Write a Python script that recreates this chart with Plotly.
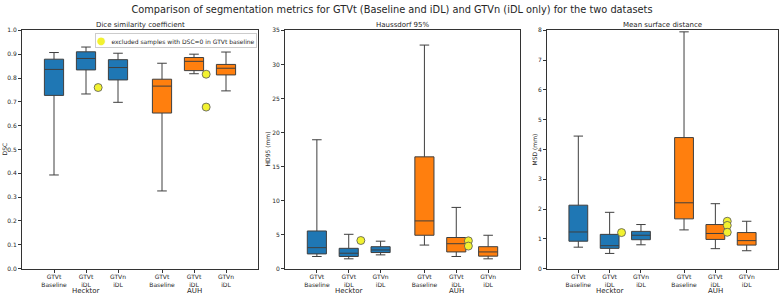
import plotly.graph_objects as go

W, H = 784, 297

groups = ["Hecktor", "AUH"]
methods = ["GTVt<br>Baseline", "GTVt<br>iDL", "GTVn<br>iDL"]
group_colors = ["#1f77b4", "#ff7f0e"]

metric_titles = ["Dice similarity coefficient", "Haussdorf 95%", "Mean surface distance"]
metric_ylabels = ["DSC", "HD95 (mm)", "MSD (mm)"]
metric_ranges = [[0, 1.0], [0, 35], [0, 8]]
metric_dticks = [0.1, 5, 1]
metric_tickfmt = [".1f", "d", "d"]

# box order: Hecktor (Baseline, iDL, GTVn iDL), AUH (Baseline, iDL, GTVn iDL)
dsc_lower = [0.393, 0.733, 0.698, 0.326, 0.818, 0.746]
dsc_q1 = [0.727, 0.834, 0.792, 0.653, 0.831, 0.813]
dsc_median = [0.836, 0.882, 0.844, 0.766, 0.870, 0.841]
dsc_q3 = [0.879, 0.910, 0.877, 0.795, 0.886, 0.857]
dsc_upper = [0.907, 0.930, 0.904, 0.862, 0.900, 0.909]
dsc_excluded_hecktor = [0.760]
dsc_excluded_auh = [0.816, 0.678]

hd95_lower = [1.78, 1.44, 2.02, 3.46, 1.78, 1.44]
hd95_q1 = [2.16, 1.78, 2.36, 4.90, 2.45, 1.83]
hd95_median = [3.08, 2.26, 2.74, 7.01, 3.66, 2.45]
hd95_q3 = [5.53, 2.98, 3.22, 16.42, 4.57, 3.22]
hd95_upper = [18.93, 5.04, 4.03, 32.84, 8.99, 4.90]
hd95_excluded_hecktor = [4.13]
hd95_excluded_auh = [4.08, 3.31]

msd_lower = [0.72, 0.51, 0.80, 1.30, 0.67, 0.60]
msd_q1 = [0.92, 0.68, 0.97, 1.67, 0.98, 0.79]
msd_median = [1.23, 0.77, 1.12, 2.21, 1.18, 0.94]
msd_q3 = [2.13, 1.15, 1.25, 4.40, 1.48, 1.21]
msd_upper = [4.45, 1.89, 1.48, 7.95, 2.18, 1.59]
msd_excluded_hecktor = [1.21]
msd_excluded_auh = [1.59, 1.45, 1.22]

metrics = [
    (dsc_lower, dsc_q1, dsc_median, dsc_q3, dsc_upper, dsc_excluded_hecktor, dsc_excluded_auh),
    (hd95_lower, hd95_q1, hd95_median, hd95_q3, hd95_upper, hd95_excluded_hecktor, hd95_excluded_auh),
    (msd_lower, msd_q1, msd_median, msd_q3, msd_upper, msd_excluded_hecktor, msd_excluded_auh),
]

legend_label = "excluded samples with DSC=0 in GTVt baseline"

# layout geometry
GROUP_GAP = 0.375
BOX_W = 0.6
OUT_OFF = 0.38
panel_px = [(22, 258), (285, 520), (547, 778)]
top_px, bot_px = 27, 271

def pos(g, m):
    return 1 + m + g * (len(methods) + GROUP_GAP)

positions = [pos(g, m) for g in range(len(groups)) for m in range(len(methods))]
tick_text = [m for g in groups for m in methods]
x_range = [0, positions[-1] + 1]

FONT = "DejaVu Sans"
LINE = "#3f3f3f"
TXT = "#262626"
YELLOW = "#f2f230"
fig = go.Figure()
annotations = []
axes = {}

for k, (lo, q1, med, q3, up, exc_h, exc_a) in enumerate(metrics):
    xa = "x" if k == 0 else f"x{k+1}"
    ya = "y" if k == 0 else f"y{k+1}"
    for g in range(len(groups)):
        idx = [g * len(methods) + m for m in range(len(methods))]
        fig.add_trace(go.Box(
            x=[positions[i] for i in idx],
            q1=[q1[i] for i in idx], median=[med[i] for i in idx], q3=[q3[i] for i in idx],
            lowerfence=[lo[i] for i in idx], upperfence=[up[i] for i in idx],
            width=BOX_W, whiskerwidth=0.5, boxpoints=False, orientation="v",
            fillcolor=group_colors[g], line=dict(color=LINE, width=1),
            showlegend=False, hoverinfo="skip",
            xaxis=xa, yaxis=ya,
        ))
    for g, exc in enumerate([exc_h, exc_a]):
        fig.add_trace(go.Scatter(
            x=[pos(g, 1) + OUT_OFF] * len(exc), y=exc, mode="markers",
            marker=dict(color=YELLOW, size=8, line=dict(color="#555555", width=0.8)),
            name=legend_label, showlegend=False, hoverinfo="skip",
            xaxis=xa, yaxis=ya,
        ))

    x0, x1 = panel_px[k]
    dom = [x0 / W, x1 / W]
    axis_common = dict(showline=True, mirror=True, linecolor="#333333", linewidth=1,
                       showgrid=False, zeroline=False, ticks="outside", ticklen=3,
                       tickcolor="#333333", tickfont=dict(family=FONT, size=6, color=TXT))
    sfx = "" if k == 0 else str(k + 1)
    axes[f"xaxis{sfx}"] = dict(
        domain=dom, range=x_range, autorange=False, type="linear", tickmode="array",
        tickvals=positions, ticktext=tick_text, anchor=ya, ticklabelstandoff=-1,
        **axis_common)
    axes[f"yaxis{sfx}"] = dict(
        domain=[(H - bot_px) / H, (H - top_px) / H], range=metric_ranges[k], autorange=False,
        type="linear", dtick=metric_dticks[k], tick0=0, tickformat=metric_tickfmt[k],
        anchor=xa, **axis_common)

    annotations.append(dict(text=metric_titles[k], x=(dom[0] + dom[1]) / 2, y=1 - 21 / H,
                            xref="paper", yref="paper", showarrow=False,
                            font=dict(family=FONT, size=7, color=TXT),
                            xanchor="center", yanchor="middle"))
    ylab_x = [4, 267, 534][k]
    annotations.append(dict(text=metric_ylabels[k], x=ylab_x / W, y=(1 - (top_px + bot_px) / 2 / H),
                            xref="paper", yref="paper", showarrow=False, textangle=-90,
                            font=dict(family=FONT, size=6, color=TXT),
                            xanchor="center", yanchor="middle"))
    for g, name in enumerate(groups):
        annotations.append(dict(text=name, x=pos(g, 1), y=(H - 293.5) / H,
                                xref=xa, yref="paper", showarrow=False,
                                font=dict(family=FONT, size=7, color=TXT),
                                xanchor="center", yanchor="middle"))

# legend box (top right of first panel)
annotations.append(dict(
    text=f'<span style="color:{YELLOW};font-size:10px">●</span>   {legend_label}',
    x=257 / W, y=1 - 29.5 / H, xref="paper", yref="paper", showarrow=False,
    xanchor="right", yanchor="top", align="left",
    font=dict(family=FONT, size=6, color=TXT),
    bgcolor="rgba(255,255,255,0.85)", bordercolor="#cccccc", borderwidth=1, borderpad=1,
))

fig.update_layout(
    width=W, height=H, margin=dict(l=0, r=0, t=0, b=0),
    paper_bgcolor="white", plot_bgcolor="white", boxmode="overlay",
    title=dict(text="Comparison of segmentation metrics for GTVt (Baseline and iDL) and GTVn (iDL only) for the two datasets",
               x=0.5, xanchor="center", y=1 - 10 / H, yanchor="middle",
               font=dict(family=FONT, size=9.8, color=TXT)),
    annotations=annotations,
    showlegend=False,
    font=dict(family=FONT),
    hovermode=False,
    **axes,
)

fig.write_html("out.html", config={"displayModeBar": False},
               post_script="document.body.style.margin='0';document.body.style.overflow='hidden';")
